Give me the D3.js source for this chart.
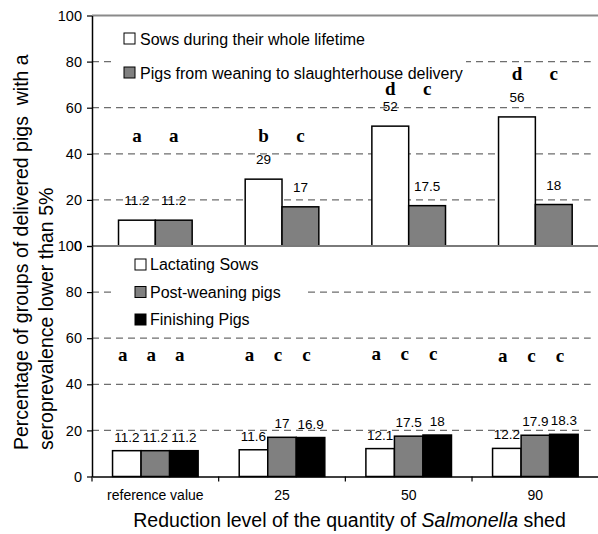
<!DOCTYPE html>
<html>
<head>
<meta charset="utf-8">
<script src="https://cdn.jsdelivr.net/npm/d3@7/dist/d3.min.js"></script>
<style>
  html, body { margin: 0; padding: 0; background: #fff; }
  svg { display: block; }
  text { font-family: "Liberation Sans", Arial, sans-serif; }
</style>
</head>
<body>
<svg id="chart" width="598" height="534"></svg>
<script>
// ---------- data ----------
const categories = ["reference value", "25", "50", "90"];
const yTicks = [0, 20, 40, 60, 80, 100];

// top panel
const topSeriesNames = ["Sows during their whole lifetime", "Pigs from weaning to slaughterhouse delivery"];
const topSows = [11.2, 29, 52, 56];
const topPigs = [11.2, 17, 17.5, 18];
const topLetters = [["a", "a"], ["b", "c"], ["d", "c"], ["d", "c"]];
const topLetterLevels = [45, 45, 65.5, 72];

// bottom panel
const bottomSeriesNames = ["Lactating Sows", "Post-weaning pigs", "Finishing Pigs"];
const bottomLactating = [11.2, 11.6, 12.1, 12.2];
const bottomPostWeaning = [11.2, 17, 17.5, 17.9];
const bottomFinishing = [11.2, 16.9, 18, 18.3];
const bottomLetters = [["a", "a", "a"], ["a", "c", "c"], ["a", "c", "c"], ["a", "c", "c"]];
const bottomLetterLevels = [50, 50, 50.5, 49.5];

// ---------- layout ----------
const svg = d3.select("#chart");
const left = 92, right = 598.7;
const topY0 = 246, topY1 = 15.5, botY0 = 476.5, botY1 = 246;
const fills2 = ["#ffffff", "#808080"];
const fills3 = ["#ffffff", "#808080", "#000000"];

const x0 = d3.scaleBand().domain(categories).range([left, right]).padding(0);
const yTop = d3.scaleLinear().domain([0, 100]).range([topY0, topY1]);
const yBot = d3.scaleLinear().domain([0, 100]).range([botY0, botY1]);

const x1Top = d3.scaleBand().domain(d3.range(2)).range([0, x0.bandwidth()]).paddingInner(0).paddingOuter(0.72);
const x1Bot = d3.scaleBand().domain(d3.range(3)).range([0, x0.bandwidth()]).paddingInner(0).paddingOuter(0.72);

// ---------- gridlines ----------
function grid(y) {
  svg.append("g").selectAll("line").data([20, 40, 60, 80]).join("line")
    .attr("x1", left).attr("x2", right - 8)
    .attr("y1", d => y(d)).attr("y2", d => y(d))
    .attr("stroke", "#6e6e6e").attr("stroke-width", 1.3)
    .attr("stroke-dasharray", "7,5");
}
grid(yTop);
grid(yBot);

// top border line of the upper panel
svg.append("line").attr("x1", left).attr("x2", right)
  .attr("y1", yTop(100)).attr("y2", yTop(100))
  .attr("stroke", "#8a8a8a").attr("stroke-width", 2);

// ---------- legends (white boxes hide gridlines) ----------
svg.append("rect").attr("x", 115).attr("y", 22).attr("width", 351).attr("height", 66).attr("fill", "#fff");
svg.append("rect").attr("x", 111).attr("y", 250).attr("width", 195).attr("height", 80).attr("fill", "#fff");

const legTop = svg.append("g").selectAll("g").data(topSeriesNames).join("g")
  .attr("transform", (d, i) => `translate(124,${33 + i * 34})`);
legTop.append("rect").attr("width", 11).attr("height", 11)
  .attr("fill", (d, i) => fills2[i]).attr("stroke", "#000").attr("stroke-width", 1);
legTop.append("text").attr("x", 16).attr("y", 12).attr("font-size", 16).text(d => d);

const legBot = svg.append("g").selectAll("g").data(bottomSeriesNames).join("g")
  .attr("transform", (d, i) => `translate(135,${259 + i * 27.5})`);
legBot.append("rect").attr("width", 11).attr("height", 11)
  .attr("fill", (d, i) => fills3[i]).attr("stroke", "#000").attr("stroke-width", 1);
legBot.append("text").attr("x", 15).attr("y", 11).attr("font-size", 16).text(d => d);

// ---------- top bars ----------
const topSeries = [topSows, topPigs];
const topData = categories.flatMap((c, ci) => topSeries.map((s, si) => ({ c, ci, si, v: s[ci] })));
svg.append("g").selectAll("rect").data(topData).join("rect")
  .attr("x", d => x0(d.c) + x1Top(d.si))
  .attr("width", x1Top.bandwidth())
  .attr("y", d => yTop(d.v))
  .attr("height", d => yTop(0) - yTop(d.v))
  .attr("fill", d => fills2[d.si]).attr("stroke", "#000").attr("stroke-width", 1.5);
svg.append("g").selectAll("text").data(topData).join("text")
  .attr("x", d => x0(d.c) + x1Top(d.si) + x1Top.bandwidth() / 2)
  .attr("y", d => yTop(d.v) - 15)
  .attr("text-anchor", "middle").attr("font-size", 13.5)
  .text(d => d.v);
const topLetterData = categories.flatMap((c, ci) => topLetters[ci].map((l, si) => ({ c, ci, si, l })));
svg.append("g").selectAll("text").data(topLetterData).join("text")
  .attr("x", d => x0(d.c) + x1Top(d.si) + x1Top.bandwidth() / 2)
  .attr("y", d => yTop(topLetterLevels[d.ci]))
  .attr("text-anchor", "middle")
  .style("font-family", "'Liberation Serif', 'Times New Roman', serif")
  .attr("font-weight", "bold").attr("font-size", 19)
  .text(d => d.l);

// ---------- bottom bars ----------
const botSeries = [bottomLactating, bottomPostWeaning, bottomFinishing];
const botData = categories.flatMap((c, ci) => botSeries.map((s, si) => ({ c, ci, si, v: s[ci] })));
svg.append("g").selectAll("rect").data(botData).join("rect")
  .attr("x", d => x0(d.c) + x1Bot(d.si))
  .attr("width", x1Bot.bandwidth())
  .attr("y", d => yBot(d.v))
  .attr("height", d => yBot(0) - yBot(d.v))
  .attr("fill", d => fills3[d.si]).attr("stroke", "#000").attr("stroke-width", 1.5);
svg.append("g").selectAll("text").data(botData).join("text")
  .attr("x", d => x0(d.c) + x1Bot(d.si) + x1Bot.bandwidth() / 2)
  .attr("y", d => yBot(d.v) - 9)
  .attr("text-anchor", "middle").attr("font-size", 13.5)
  .text(d => d.v);
const botLetterData = categories.flatMap((c, ci) => bottomLetters[ci].map((l, si) => ({ c, ci, si, l })));
svg.append("g").selectAll("text").data(botLetterData).join("text")
  .attr("x", d => x0(d.c) + x1Bot(d.si) + x1Bot.bandwidth() / 2 - 4)
  .attr("y", d => yBot(bottomLetterLevels[d.ci]))
  .attr("text-anchor", "middle")
  .style("font-family", "'Liberation Serif', 'Times New Roman', serif")
  .attr("font-weight", "bold").attr("font-size", 19)
  .text(d => d.l);

// separator (x axis of upper panel)
svg.append("line").attr("x1", left).attr("x2", right)
  .attr("y1", yTop(0)).attr("y2", yTop(0))
  .attr("stroke", "#7a7a7a").attr("stroke-width", 2);

// ---------- axes ----------
function styleAxis(g, size) {
  g.selectAll("path.domain").attr("stroke", "#000").attr("stroke-width", 1.5);
  g.selectAll(".tick line").attr("stroke", "#000").attr("stroke-width", 1.2);
  g.selectAll(".tick text").attr("fill", "#000").attr("font-size", size)
    .style("font-family", "'Liberation Sans', Arial, sans-serif");
}
const axTop = svg.append("g").attr("transform", `translate(${left},0)`)
  .call(d3.axisLeft(yTop).tickValues(yTicks).tickSize(5).tickSizeOuter(0).tickPadding(5).tickFormat(d3.format("d")));
styleAxis(axTop, 14.5);
const axBot = svg.append("g").attr("transform", `translate(${left},0)`)
  .call(d3.axisLeft(yBot).tickValues(yTicks).tickSize(5).tickSizeOuter(0).tickPadding(5).tickFormat(d3.format("d")));
styleAxis(axBot, 14.5);

// bottom x axis: labels at band centres
const axX = svg.append("g").attr("transform", `translate(0,${botY0})`)
  .call(d3.axisBottom(x0).tickSize(0).tickSizeOuter(0).tickPadding(14));
styleAxis(axX, 14);
// boundary ticks between categories
svg.append("g").selectAll("line").data(categories).join("line")
  .attr("x1", d => x0(d)).attr("x2", d => x0(d))
  .attr("y1", botY0).attr("y2", botY0 + 5)
  .attr("stroke", "#000").attr("stroke-width", 1.2);

// ---------- titles ----------
const yTitle = svg.append("g").attr("font-size", 19.5).attr("fill", "#000");
yTitle.append("text").attr("transform", "translate(28,450) rotate(-90)")
  .attr("text-anchor", "start").text("Percentage of groups of delivered pigs\u00a0 with a");
yTitle.append("text").attr("transform", "translate(53,450) rotate(-90)")
  .attr("text-anchor", "start").text("seroprevalence lower than 5%");

const xTitle = svg.append("text").attr("x", 349.5).attr("y", 527)
  .attr("text-anchor", "middle").attr("font-size", 19.5);
xTitle.append("tspan").text("Reduction level of the quantity of ");
xTitle.append("tspan").attr("font-style", "italic").text("Salmonella");
xTitle.append("tspan").text(" shed");
</script>
</body>
</html>
